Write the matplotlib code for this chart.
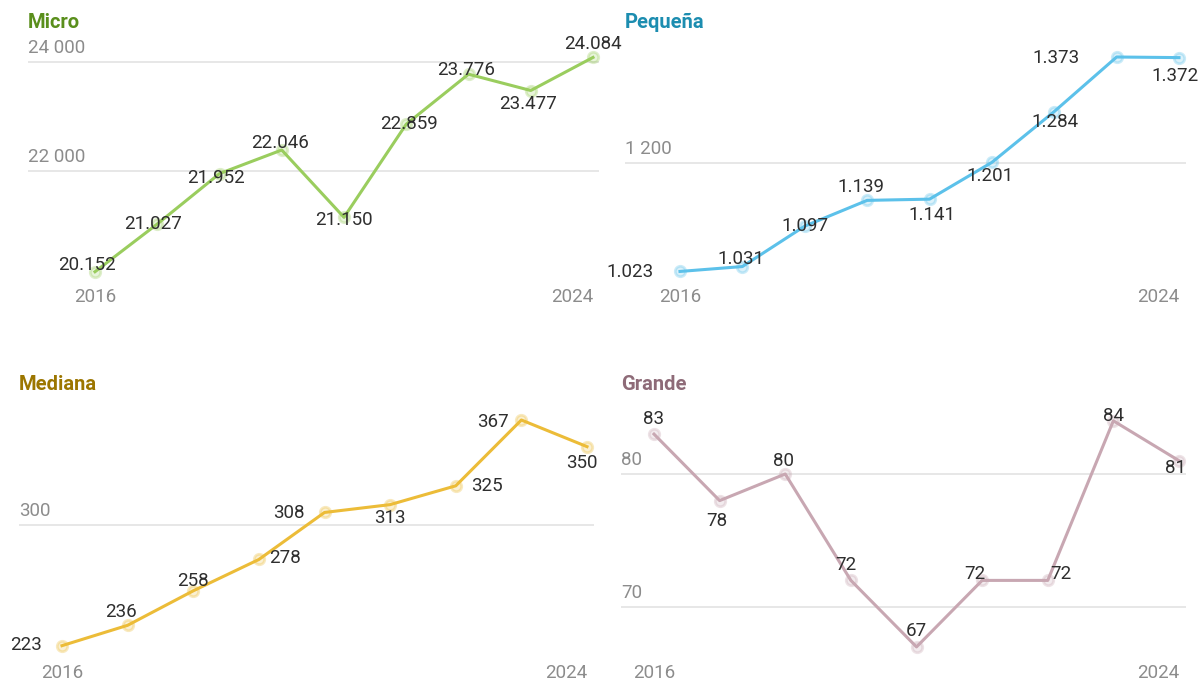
import matplotlib
matplotlib.use("Agg")
import matplotlib.pyplot as plt
import matplotlib.transforms as mtransforms

plt.rcParams["font.family"] = ["Roboto", "DejaVu Sans"]

years = [2016, 2017, 2018, 2019, 2020, 2021, 2022, 2023, 2024]

# plotted positions (2019 Micro point sits above its label value)
micro = [20152, 21027, 21952, 22385, 21150, 22859, 23776, 23477, 24084]
micro_labels = ["20.152", "21.027", "21.952", "22.046", "21.150", "22.859", "23.776", "23.477", "24.084"]
pequena = [1023, 1031, 1097, 1139, 1141, 1201, 1284, 1373, 1372]
mediana = [223, 236, 258, 278, 308, 313, 325, 367, 350]
grande = [83, 78, 80, 72, 67, 72, 72, 84, 81]

micro_ticks = [22000, 24000]
pequena_ticks = [1200]
mediana_ticks = [300]
grande_ticks = [70, 80]

W, H = 1198, 683


def fmt_value(v):
    return f"{v:,}".replace(",", ".")


def fmt_tick(v):
    return f"{v:,}".replace(",", " ")


def draw_panel(fig, title, values, labels, ticks, line_color, title_color, layout, label_pos):
    gx0, gx1, x_first, x_last, top, bottom, ref_a, ref_b, year_y, title_y = layout
    ax = fig.add_axes([gx0 / W, 1 - bottom / H, (gx1 - gx0) / W, (bottom - top) / H])

    # map pixel layout onto data limits
    px_per_year = (x_last - x_first) / (years[-1] - years[0])
    ax.set_xlim(years[0] - (x_first - gx0) / px_per_year,
                years[-1] + (gx1 - x_last) / px_per_year)
    (va_, pa), (vb, pb) = ref_a, ref_b
    per_px = (vb - va_) / (pa - pb)
    ax.set_ylim(va_ - (bottom - pa) * per_px, va_ + (pa - top) * per_px)

    for s in ax.spines.values():
        s.set_visible(False)
    ax.set_xticks([])
    ax.set_yticks([])
    ax.patch.set_alpha(0)

    blend = mtransforms.blended_transform_factory(ax.transAxes, ax.transData)
    for t in ticks:
        ax.axhline(t, color="#e3e3e3", lw=1.2, zorder=1)
        ax.annotate(fmt_tick(t), xy=(0, t), xycoords=blend, xytext=(0, 14),
                    textcoords="offset pixels", ha="left", va="center",
                    fontsize=13.5, color="#8c8c8c")

    ax.plot(years, values, color=line_color, lw=2.2, zorder=3, clip_on=False)
    ax.plot(years, values, ls="none", marker="o", ms=7.5,
            mfc=matplotlib.colors.to_rgba(line_color, 0.22),
            mec=matplotlib.colors.to_rgba(line_color, 0.32), mew=2,
            zorder=4, clip_on=False)

    for yr, v, txt, (dx, dy, ha) in zip(years, values, labels, label_pos):
        ax.annotate(txt, xy=(yr, v), xytext=(dx, dy),
                    textcoords="offset pixels", ha=ha, va="center",
                    fontsize=13.5, color="#2e2e2e", zorder=5,
                    annotation_clip=False)

    yblend = mtransforms.blended_transform_factory(ax.transData, fig.transFigure)
    ax.text(years[0], 1 - year_y / H, str(years[0]), transform=yblend,
            ha="center", va="center", fontsize=13.5, color="#8c8c8c")
    ax.text(years[-1], 1 - year_y / H, str(years[-1]), transform=yblend,
            ha="right", va="center", fontsize=13.5, color="#8c8c8c")

    fig.text(gx0 / W, 1 - title_y / H, title, ha="left", va="center",
             fontsize=14.5, fontweight="bold", color=title_color)
    return ax


fig = plt.figure(figsize=(W / 100, H / 100), dpi=100)
fig.patch.set_facecolor("white")

draw_panel(
    fig, "Micro", micro, micro_labels, micro_ticks, "#9acd5e", "#5a8f1c",
    (28, 599, 95, 593, 30, 300, (22000, 171), (24000, 62), 297, 22),
    [(-8, 7, "center"), (-4, 0, "center"), (-3, -4, "center"), (-2, 7, "center"),
     (0, -3, "center"), (3, 0, "center"), (-2, 4, "center"), (-3, -13, "center"),
     (0, 13, "center")],
)

draw_panel(
    fig, "Pequeña", pequena, [fmt_value(v) for v in pequena], pequena_ticks, "#5cc1ea", "#1c8db0",
    (625, 1186, 680, 1179, 30, 300, (1200, 163), (1373, 57), 297, 22),
    [(-26, -1, "right"), (-1, 8, "center"), (0, 0, "center"), (-6, 13, "center"),
     (2, -16, "center"), (-2, -14, "center"), (1, -10, "center"), (-37, -1, "right"),
     (-4, -18, "center")],
)

draw_panel(
    fig, "Mediana", mediana, [fmt_value(v) for v in mediana], mediana_ticks, "#ecbc38", "#9c7600",
    (19, 594, 62, 587, 400, 660, (300, 525), (367, 420), 673, 384),
    [(-20, 1, "right"), (-7, 13, "center"), (0, 10, "center"), (10, 1, "left"),
     (-20, -1, "right"), (0, -13, "center"), (15, 0, "left"), (-12, -2, "right"),
     (-5, -16, "center")],
)

draw_panel(
    fig, "Grande", grande, [fmt_value(v) for v in grande], grande_ticks, "#c8a7b2", "#8e6b78",
    (621, 1186, 654, 1179, 400, 660, (80, 474), (70, 607), 673, 384),
    [(0, 15, "center"), (-3, -20, "center"), (-2, 13, "center"), (-5, 15, "center"),
     (0, 16, "center"), (-7, 6, "center"), (13, 6, "center"), (0, 5, "center"),
     (-4, -7, "center")],
)

fig.savefig("out.png", dpi=100, facecolor="white")
